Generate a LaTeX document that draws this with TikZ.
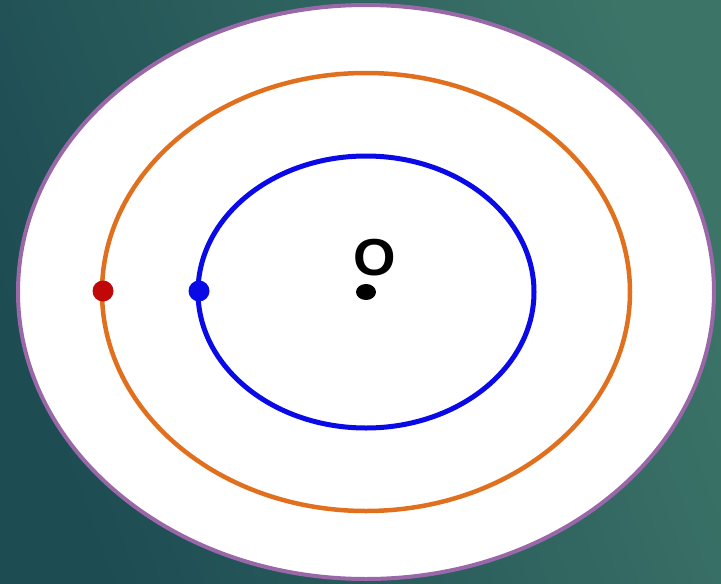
\documentclass[tikz,border=0pt]{standalone}
\usepackage{fontspec}
\setmainfont{Liberation Sans}
\usepackage{tikz}
\usetikzlibrary{positioning}

\definecolor{bgdark}{HTML}{1D4C53}
\definecolor{bglight}{HTML}{3C7468}
\definecolor{rimpurple}{HTML}{9A68A8}
\definecolor{orbitorange}{HTML}{E0701E}
\definecolor{orbitblue}{HTML}{0A0AE6}
\definecolor{dotred}{HTML}{C00808}

\begin{document}
\begin{tikzpicture}[
    x=1pt, y=-1pt,
    rim/.style={draw=rimpurple, line width=4pt, fill=white},
    orbit/.style={line width=4.5pt},
    pt/.style={circle, inner sep=0pt, minimum width=21pt}
]
\shade[shading=axis, left color=bgdark, right color=bglight, shading angle=110] (0,0) rectangle (721,584);
\useasboundingbox (0,0) rectangle (721,584);

\coordinate (o) at (366,292);
\draw[rim] (o) ellipse [x radius=348, y radius=287];
\draw[orbit, draw=orbitorange] (o) ellipse [x radius=264, y radius=219];
\draw[orbit, draw=orbitblue, line width=5pt] (o) ellipse [x radius=168, y radius=136];

\node[pt, fill=black, minimum width=20pt, yscale=0.8] (centre) at (366,292) {};
\node[font=\fontsize{52}{52}\selectfont\bfseries, inner sep=0pt, xscale=1.05] (olabel) at (375,258) {O};
\node[pt, fill=dotred] (redpt) at (103,291) {};
\node[pt, fill=orbitblue] (bluept) at (199,291) {};
\end{tikzpicture}
\end{document}
